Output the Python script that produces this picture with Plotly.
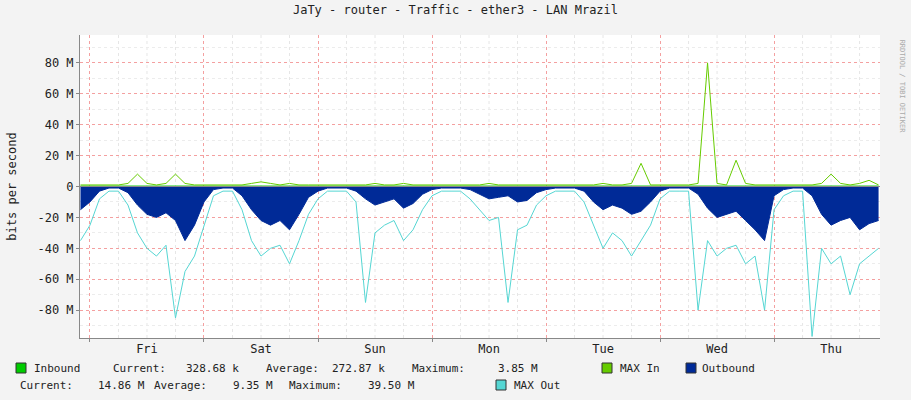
import plotly.graph_objects as go

# hours since Fri 00:00, 2h steps
hours = list(range(-2, 167, 2))
days = ["Fri", "Sat", "Sun", "Mon", "Tue", "Wed", "Thu"]

out_avg = [-15,
    -10, -3, -1, -1, -4, -12, -18, -20, -17, -22, -35, -25,
    -10, -2, -1, -1, -6, -15, -22, -25, -22, -28, -18, -7,
    -3, -1, -1, -1, -3, -8, -12, -10, -8, -14, -11, -5,
    -2, -1, -1, -1, -2, -5, -8, -7, -6, -10, -9, -4,
    -2, -1, -1, -1, -3, -10, -15, -12, -14, -18, -16, -10,
    -3, -1, -1, -1, -5, -14, -20, -18, -16, -22, -28, -35,
    -6, -2, -1, -1, -6, -18, -25, -22, -20, -28, -24, -22]

out_max = [-35,
    -25, -8, -3, -3, -12, -30, -40, -45, -38, -85, -55, -45,
    -25, -6, -3, -3, -15, -35, -45, -40, -38, -50, -35, -18,
    -8, -3, -3, -3, -10, -75, -30, -25, -22, -35, -28, -15,
    -6, -3, -3, -3, -8, -15, -22, -20, -75, -28, -25, -12,
    -6, -3, -3, -3, -10, -25, -40, -30, -35, -45, -35, -25,
    -8, -3, -3, -3, -80, -35, -45, -40, -38, -50, -45, -80,
    -15, -6, -3, -3, -97, -40, -50, -45, -70, -50, -45, -40]

in_max = [1,
    1, 1, 1, 1, 2, 8, 2, 1, 2, 8, 2, 1,
    1, 1, 1, 1, 1, 2, 3, 2, 1, 2, 1, 1,
    1, 1, 1, 1, 1, 1, 2, 1, 1, 2, 1, 1,
    1, 1, 1, 1, 1, 1, 2, 1, 1, 1, 1, 1,
    1, 1, 1, 1, 1, 1, 2, 1, 1, 2, 15, 1,
    1, 1, 1, 1, 2, 80, 2, 1, 17, 2, 1, 1,
    1, 1, 1, 1, 1, 2, 8, 2, 1, 2, 4, 1]

in_hours = [-2, 12, 36, 60, 84, 108, 132, 156, 166]
in_avg = [0.3, 0.3, 0.25, 0.25, 0.3, 0.3, 0.3, 0.25, 0.3]

yticks = [-80, -60, -40, -20, 0, 20, 40, 60, 80]

mono = "DejaVu Sans Mono"
fig = go.Figure()
fig.add_scatter(x=hours, y=out_avg, fill="tozeroy", mode="lines",
                line=dict(color="#002A97", width=1), fillcolor="#002A97")
fig.add_scatter(x=in_hours, y=in_avg, fill="tozeroy", mode="lines",
                line=dict(color="#00CC00", width=1), fillcolor="#00CC00")
fig.add_scatter(x=hours, y=out_max, mode="lines", line=dict(color="#55D6D3", width=1))
fig.add_scatter(x=hours, y=in_max, mode="lines", line=dict(color="#66CC00", width=1))

# 6-hour grey grid
for h in range(0, 167, 6):
    if h % 24:
        fig.add_vline(x=h, line=dict(color="#e6e6e6", width=1, dash="dot"), layer="below")

fig.update_layout(
    width=911, height=400, showlegend=False,
    paper_bgcolor="#F3F3F3", plot_bgcolor="white",
    margin=dict(l=80, r=31, t=35, b=62, autoexpand=False),
    font=dict(family=mono, size=11, color="#222"),
    title=dict(text="JaTy - router - Traffic - ether3 - LAN Mrazil", x=0.5, y=0.985,
               xanchor="center", yanchor="top", font=dict(size=12)),
    xaxis=dict(range=[-2.1, 166.3], tickvals=[12 + 24 * i for i in range(7)], ticktext=days,
               showgrid=False, zeroline=False, ticks="", showline=True, linecolor="#888",
               automargin=False, tickfont=dict(size=12),
               minor=dict(tick0=0, dtick=24, showgrid=True, gridcolor="#F4A0A0",
                          griddash="dot", ticks="outside", ticklen=3, tickcolor="#888")),
    yaxis=dict(range=[-98, 98], tickvals=yticks, ticktext=[f"{v} M" if v else "0" for v in yticks],
               gridcolor="#F4A0A0", griddash="dot", zeroline=False, ticks="outside",
               ticklen=3, tickcolor="#888", showline=True, linecolor="#888",
               automargin=False, tickfont=dict(size=12),
               title=dict(text="bits per second", standoff=18, font=dict(size=12)),
               minor=dict(dtick=10, showgrid=True, gridcolor="#ececec", griddash="dot")),
)
fig.add_hline(y=0, line=dict(color="#888", width=1))

fig.add_annotation(text="RRDTOOL / TOBI OETIKER", textangle=90, xref="paper", yref="paper",
                   x=1.028, y=0.99, xanchor="center", yanchor="top", showarrow=False,
                   font=dict(size=7, color="#aaaaaa"))

def px(x):
    return (x - 80) / 800

def py(y):
    return (338 - y) / 303

rows = [
    (16, 368, "#00CC00"), (602, 368, "#66CC00"), (686, 368, "#002A97"), (496, 385, "#55D6D3"),
]
for x0, y0, c in rows:
    fig.add_shape(type="rect", xref="paper", yref="paper", x0=px(x0), x1=px(x0 + 10),
                  y0=py(y0 + 5), y1=py(y0 - 5), fillcolor=c, line=dict(color="#333", width=1))

texts = [
    (32, 368, "Inbound"), (111, 368, "Current:"), (184, 368, "328.68 k"),
    (264, 368, "Average:"), (330, 368, "272.87 k"), (410, 368, "Maximum:"),
    (496, 368, "3.85 M"), (618, 368, "MAX In"), (700, 368, "Outbound"),
    (18, 385, "Current:"), (96, 385, "14.86 M"), (152, 385, "Average:"),
    (231, 385, "9.35 M"), (287, 385, "Maximum:"), (366, 385, "39.50 M"), (512, 385, "MAX Out"),
]
for x0, y0, t in texts:
    fig.add_annotation(text=t, xref="paper", yref="paper", x=px(x0), y=py(y0),
                       xanchor="left", yanchor="middle", showarrow=False)

fig.write_html("out.html", config={"displayModeBar": False},
               post_script="document.body.style.margin='0';")
